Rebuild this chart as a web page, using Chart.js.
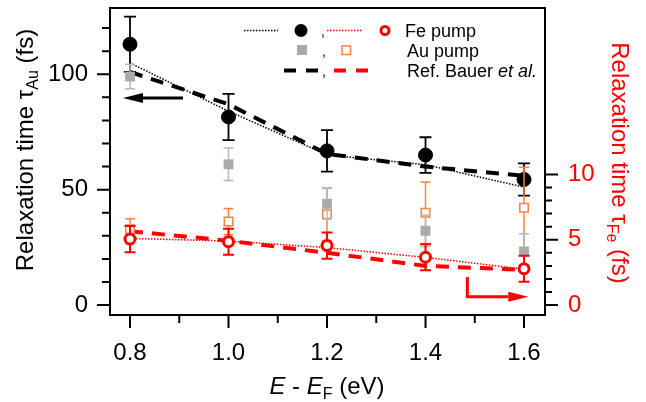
<!DOCTYPE html>
<html>
<head>
<meta charset="utf-8">
<script src="https://cdn.jsdelivr.net/npm/chart.js@4.4.0/dist/chart.umd.min.js"></script>
<style>
  html, body { margin: 0; padding: 0; background: #fff; }
  #wrap { width: 646px; height: 402px; position: relative; }
</style>
</head>
<body>
<div id="wrap"><canvas id="chart"></canvas></div>
<script>
// E - E_F (eV)
const energias = [0.8, 1.0, 1.2, 1.4, 1.6];

// tau_Au, eje izquierdo (fs)
const tauAuFe = [113, 81.5, 66.8, 65, 54.4];
const errAuFe = [12, 10, 9, 7.7, 7];
const tauAuAu = [99, 61, 43.9, 32.2, 23.2];
const errAuAu = [5.3, 7, 6.6, 6.8, 7.7];
const ajusteAu = [104.9, 84, 65.1, 60.8, 51.1];
const bauerAu = [101, 87, 65.5, 60, 56];

// tau_Fe, eje derecho (fs)
const tauFeFe = [5.05, 4.85, 4.55, 3.66, 2.78];
const errFeFe = [1, 1, 1, 1, 1];
const tauFeAu = [5.8, 6.39, 6.95, 7.07, 7.45];
const errFeAu = [0.8, 1.0, 2.0, 2.35, 3.1];
const ajusteFe = [5.1, 4.9, 4.4, 3.65, 2.75];
const bauerFe = [5.65, 4.92, 4.0, 3.0, 2.7];

// marcas de los ejes
const xTicks = [0.8, 0.9, 1.0, 1.1, 1.2, 1.3, 1.4, 1.5, 1.6];
const xLabels = ["0.8", "1.0", "1.2", "1.4", "1.6"];
const yTicks = [0, 10, 20, 30, 40, 50, 60, 70, 80, 90, 100, 110, 120];
const yLabels = [0, 50, 100];
const y1Ticks = [0, 1, 2, 3, 4, 5, 6, 7, 8, 9, 10];
const y1Labels = [0, 5, 10];

const fuente = "'Liberation Sans', Arial, sans-serif";
const ROJO = '#ff0000';
const NARANJA = '#ff8040';
const GRIS = '#aaaaaa';

const puntos = (ys) => energias.map((x, i) => ({ x: x, y: ys[i] }));

const barrasError = {
  id: 'barrasError',
  beforeDatasetDraw(chart, args) {
    const ds = chart.data.datasets[args.index];
    if (!ds.errores) return;
    const ctx = chart.ctx;
    const sx = chart.scales.x;
    const sy = chart.scales[ds.yAxisID];
    ctx.save();
    ctx.strokeStyle = ds.colorError;
    ctx.lineWidth = ds.anchoError;
    ds.data.forEach((p, i) => {
      const px = sx.getPixelForValue(p.x);
      const arriba = sy.getPixelForValue(p.y + ds.errores[i]);
      const abajo = sy.getPixelForValue(p.y - ds.errores[i]);
      const c = ds.tapa;
      ctx.beginPath();
      ctx.moveTo(px, arriba); ctx.lineTo(px, abajo);
      ctx.moveTo(px - c, arriba); ctx.lineTo(px + c, arriba);
      ctx.moveTo(px - c, abajo); ctx.lineTo(px + c, abajo);
      ctx.stroke();
    });
    ctx.restore();
  }
};

// texto con subindices / cursiva
const medir = (ctx, partes) => {
  let w = 0;
  partes.forEach(p => { ctx.font = (p.it ? 'italic ' : '') + p.s + 'px ' + fuente; w += ctx.measureText(p.t).width; });
  return w;
};
const escribir = (ctx, partes, x, y, align) => {
  let w = medir(ctx, partes);
  let cx = align === 'center' ? x - w / 2 : x;
  ctx.textBaseline = 'alphabetic';
  ctx.textAlign = 'left';
  partes.forEach(p => {
    ctx.font = (p.it ? 'italic ' : '') + p.s + 'px ' + fuente;
    ctx.fillText(p.t, cx, y + (p.dy || 0));
    cx += ctx.measureText(p.t).width;
  });
};

const flecha = (ctx, x1, y1, x2, y2, color) => {
  const ang = Math.atan2(y2 - y1, x2 - x1);
  const largo = 20, medio = 5;
  ctx.save();
  ctx.strokeStyle = color; ctx.fillStyle = color; ctx.lineWidth = 3;
  ctx.beginPath();
  ctx.moveTo(x1, y1);
  ctx.lineTo(x2 - largo * Math.cos(ang), y2 - largo * Math.sin(ang));
  ctx.stroke();
  ctx.translate(x2, y2); ctx.rotate(ang);
  ctx.beginPath();
  ctx.moveTo(0, 0); ctx.lineTo(-largo, -medio); ctx.lineTo(-largo, medio); ctx.closePath();
  ctx.fill();
  ctx.restore();
};

const adornos = {
  id: 'adornos',
  afterDraw(chart) {
    const ctx = chart.ctx;
    const a = chart.chartArea;
    const sx = chart.scales.x, sy = chart.scales.y, sy1 = chart.scales.y1;
    ctx.save();
    ctx.strokeStyle = '#000';
    ctx.lineWidth = 2;
    ctx.strokeRect(a.left, a.top, a.right - a.left, a.bottom - a.top);

    ctx.beginPath();
    sx.ticks.forEach(t => {
      const px = sx.getPixelForValue(t.value);
      ctx.moveTo(px, a.bottom); ctx.lineTo(px, a.bottom + (t.label ? 13 : 8));
    });
    sy.ticks.forEach(t => {
      const py = sy.getPixelForValue(t.value);
      ctx.moveTo(a.left, py); ctx.lineTo(a.left - (t.label ? 13 : 8), py);
    });
    sy1.ticks.forEach(t => {
      const py = sy1.getPixelForValue(t.value);
      ctx.moveTo(a.right, py); ctx.lineTo(a.right + (t.label ? 13 : 7), py);
    });
    ctx.stroke();

    // flechas
    flecha(ctx, sx.getPixelForValue(0.9076), sy.getPixelForValue(89.7),
      sx.getPixelForValue(0.7858), sy.getPixelForValue(89.7), '#000');
    ctx.save();
    ctx.strokeStyle = ROJO; ctx.lineWidth = 3;
    ctx.beginPath();
    ctx.moveTo(sx.getPixelForValue(1.4849), sy1.getPixelForValue(2.14));
    ctx.lineTo(sx.getPixelForValue(1.4849), sy1.getPixelForValue(0.63));
    ctx.stroke();
    ctx.restore();
    flecha(ctx, sx.getPixelForValue(1.4849) - 1.5, sy1.getPixelForValue(0.63),
      sx.getPixelForValue(1.6087), sy1.getPixelForValue(0.63), ROJO);

    // titulos
    ctx.fillStyle = '#000';
    ctx.save();
    ctx.translate(33, 150); ctx.rotate(-Math.PI / 2);
    escribir(ctx, [{ t: 'Relaxation time \u03c4', s: 24 }, { t: 'Au', s: 16, dy: 5 }, { t: ' (fs)', s: 24 }], 0, 0, 'center');
    ctx.restore();

    ctx.save();
    ctx.fillStyle = ROJO;
    ctx.translate(612, 163); ctx.rotate(Math.PI / 2);
    escribir(ctx, [{ t: 'Relaxation time \u03c4', s: 24 }, { t: 'Fe', s: 16, dy: 5 }, { t: ' (fs)', s: 24 }], 0, 0, 'center');
    ctx.restore();

    escribir(ctx, [{ t: 'E', s: 24, it: true }, { t: ' - ', s: 24 }, { t: 'E', s: 24, it: true },
      { t: 'F', s: 16, dy: 5 }, { t: ' (eV)', s: 24 }], 327, 394, 'center');

    // leyenda
    ctx.lineWidth = 1.5;
    ctx.strokeStyle = '#000';
    ctx.setLineDash([1.5, 1.5]);
    ctx.beginPath(); ctx.moveTo(244, 30.5); ctx.lineTo(278, 30.5); ctx.stroke();
    ctx.strokeStyle = ROJO;
    ctx.beginPath(); ctx.moveTo(327, 30.5); ctx.lineTo(363, 30.5); ctx.stroke();
    ctx.setLineDash([12, 10]);
    ctx.lineWidth = 4;
    ctx.strokeStyle = '#000';
    ctx.beginPath(); ctx.moveTo(284, 70.5); ctx.lineTo(318, 70.5); ctx.stroke();
    ctx.strokeStyle = ROJO;
    ctx.beginPath(); ctx.moveTo(334, 70.5); ctx.lineTo(368, 70.5); ctx.stroke();
    ctx.setLineDash([]);

    ctx.fillStyle = '#000';
    ctx.beginPath(); ctx.arc(301, 30.5, 6.5, 0, Math.PI * 2); ctx.fill();
    ctx.strokeStyle = ROJO; ctx.lineWidth = 3;
    ctx.beginPath(); ctx.arc(385, 30.5, 4, 0, Math.PI * 2); ctx.stroke();
    ctx.fillStyle = GRIS;
    ctx.fillRect(297, 45, 10, 10);
    ctx.strokeStyle = NARANJA; ctx.lineWidth = 1.5;
    ctx.strokeRect(342, 46, 8.5, 8.5);

    ctx.fillStyle = '#000';
    ctx.font = '14px ' + fuente;
    ctx.textAlign = 'center';
    ctx.fillText(',', 323, 36);
    ctx.fillText(',', 324, 56);
    ctx.fillText(',', 324, 76);

    ctx.textAlign = 'left';
    escribir(ctx, [{ t: 'Fe pump', s: 18 }], 405, 37, 'left');
    escribir(ctx, [{ t: 'Au pump', s: 18 }], 407, 57, 'left');
    escribir(ctx, [{ t: 'Ref. Bauer ', s: 18 }, { t: 'et al.', s: 18, it: true }], 407, 77, 'left');
    ctx.restore();
  }
};

const fijarTicks = (lista) => (scale) => { scale.ticks = lista.map(v => ({ value: v })); };
const sinRelleno = (s) => { s.paddingTop = 0; s.paddingBottom = 0; s.paddingLeft = 0; s.paddingRight = 0; };

const canvas = document.getElementById("chart").getContext("2d");

const config = {
  type: "line",
  data: {
    datasets: [
      {
        label: "ajuste Au", data: puntos(ajusteAu), yAxisID: 'y', order: 12,
        borderColor: '#000', borderWidth: 1.5, borderDash: [1.5, 1.5], pointRadius: 0, fill: false
      },
      {
        label: "Bauer Au", data: puntos(bauerAu), yAxisID: 'y', order: 11,
        borderColor: '#000', borderWidth: 4, borderDash: [13, 9], pointRadius: 0, fill: false
      },
      {
        label: "ajuste Fe", data: puntos(ajusteFe), yAxisID: 'y1', order: 10,
        borderColor: ROJO, borderWidth: 1.5, borderDash: [1.5, 1.5], pointRadius: 0, fill: false
      },
      {
        label: "Bauer Fe", data: puntos(bauerFe), yAxisID: 'y1', order: 9,
        borderColor: ROJO, borderWidth: 4, borderDash: [13, 9], pointRadius: 0, fill: false
      },
      {
        label: "Fe pump tau_Au", data: puntos(tauAuFe), yAxisID: 'y', order: 6, showLine: false,
        pointRadius: 7, pointBackgroundColor: '#000', pointBorderColor: '#000', pointBorderWidth: 1,
        errores: errAuFe, colorError: '#000', anchoError: 1.8, tapa: 6
      },
      {
        label: "Au pump tau_Fe", data: puntos(tauFeAu), yAxisID: 'y1', order: 5, showLine: false,
        pointStyle: 'rect', pointRadius: 6, pointBackgroundColor: '#fff', pointBorderColor: NARANJA, pointBorderWidth: 1.5,
        errores: errFeAu, colorError: NARANJA, anchoError: 1.5, tapa: 5
      },
      {
        label: "Au pump tau_Au", data: puntos(tauAuAu), yAxisID: 'y', order: 4, showLine: false,
        pointStyle: 'rect', pointRadius: 7, pointBackgroundColor: GRIS, pointBorderColor: GRIS, pointBorderWidth: 0,
        errores: errAuAu, colorError: '#b8b8b8', anchoError: 1.5, tapa: 5
      },
      {
        label: "Fe pump tau_Fe", data: puntos(tauFeFe), yAxisID: 'y1', order: 3, showLine: false,
        pointRadius: 5, pointBackgroundColor: '#fff', pointBorderColor: ROJO, pointBorderWidth: 3,
        errores: errFeFe, colorError: ROJO, anchoError: 2, tapa: 5.5
      }
    ]
  },
  options: {
    responsive: true,
    maintainAspectRatio: false,
    animation: false,
    layout: { padding: { top: 5, left: 0, right: 0, bottom: 0 } },
    plugins: { legend: { display: false }, tooltip: { enabled: false } },
    scales: {
      x: {
        type: 'linear', min: 0.7594, max: 1.6426,
        afterBuildTicks: fijarTicks(xTicks),
        afterFit: (s) => { s.height = 87; sinRelleno(s); },
        grid: { display: false, drawTicks: false },
        border: { display: false },
        ticks: {
          autoSkip: false, maxRotation: 0, padding: 24, color: '#000',
          font: { family: fuente, size: 24 },
          callback: (v) => { const t = v.toFixed(1); return xLabels.includes(t) ? t : ''; }
        }
      },
      y: {
        type: 'linear', position: 'left', min: -4.29, max: 128.7,
        afterBuildTicks: fijarTicks(yTicks),
        afterFit: (s) => { s.width = 110; sinRelleno(s); },
        grid: { display: false, drawTicks: false },
        border: { display: false },
        ticks: {
          autoSkip: false, padding: 22, color: '#000',
          font: { family: fuente, size: 24 },
          callback: (v) => yLabels.includes(v) ? String(v) : ''
        }
      },
      y1: {
        type: 'linear', position: 'right', min: -0.758, max: 22.73,
        afterBuildTicks: fijarTicks(y1Ticks),
        afterFit: (s) => { s.width = 101; sinRelleno(s); },
        grid: { display: false, drawTicks: false },
        border: { display: false },
        ticks: {
          autoSkip: false, padding: 23, color: ROJO,
          font: { family: fuente, size: 24 },
          callback: (v) => y1Labels.includes(v) ? String(v) : ''
        }
      }
    }
  },
  plugins: [barrasError, adornos]
};

const chart = new Chart(canvas, config);
</script>
</body>
</html>
